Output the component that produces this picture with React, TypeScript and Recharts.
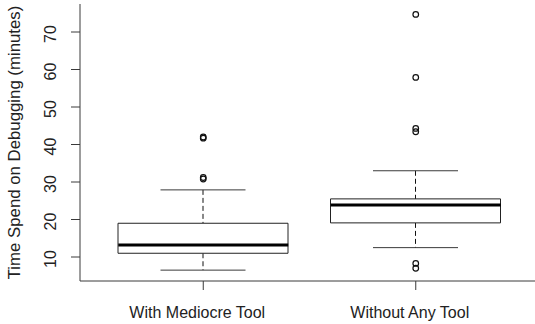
import { ComposedChart, Bar, Scatter, XAxis, YAxis, Label } from 'recharts'

// box plot summary
const categories = ['With Mediocre Tool', 'Without Any Tool']
const lowerWhisker = [6.5, 12.5]
const q1 = [11.0, 19.1]
const median = [13.2, 23.9]
const q3 = [19.0, 25.5]
const upperWhisker = [27.9, 33.0]
const outliers = [
  [30.8, 31.2, 41.7, 42.0],
  [74.7, 57.9, 44.3, 43.4, 8.3, 7.0],
]
const yTicks = [10, 20, 30, 40, 50, 60, 70]
const yDomain = [3.6, 77.47]

const boxData = categories.map((name, i) => ({
  name,
  box: [q1[i], q3[i]],
  upper: [q3[i], upperWhisker[i]],
  lower: [lowerWhisker[i], q1[i]],
  median: median[i],
}))

const outlierData = categories.flatMap((name, i) =>
  outliers[i].map((value) => ({ name, value }))
)

const FONT = '"Liberation Sans", Arial, sans-serif'
const LINE = '#3a3a3a'
const BOX_W = 170
const PAD = { left: 17, right: 17 }

const Whisker = (props: any) => {
  const { x, y, width, height, cap } = props
  const cx = x + width / 2
  const top = Math.min(y, y + height)
  const bottom = Math.max(y, y + height)
  const capY = cap === 'top' ? top : bottom
  return (
    <g>
      <line x1={cx} x2={cx} y1={top} y2={bottom} stroke="#111" strokeDasharray="5 3" />
      <line x1={cx - width / 4} x2={cx + width / 4} y1={capY} y2={capY} stroke={LINE} />
    </g>
  )
}

const MedianLine = (props: any) => {
  const { cx, cy } = props
  return <line x1={cx - BOX_W / 2} x2={cx + BOX_W / 2} y1={cy} y2={cy} stroke="#000" strokeWidth={3} />
}

const Outlier = (props: any) => {
  const { cx, cy } = props
  return <circle cx={cx} cy={cy} r={2.8} fill="none" stroke="#111" strokeWidth={1.2} />
}

const YTick = (props: any) => {
  const { x, y, payload } = props
  const tx = x - 13
  return (
    <text x={tx} y={y + 2} transform={`rotate(-90, ${tx}, ${y + 2})`} textAnchor="middle"
      fontFamily={FONT} fontSize={16} fill="#222">
      {payload.value}
    </text>
  )
}

const XTick = (props: any) => {
  const { x, y, payload } = props
  return (
    <text x={x - 6} y={y + 26} textAnchor="middle" fontFamily={FONT} fontSize={16} fill="#222">
      {payload.value}
    </text>
  )
}

const YTitle = (props: any) => {
  const { viewBox } = props
  const tx = viewBox.x + 20
  const ty = viewBox.y + viewBox.height / 2
  return (
    <text x={tx} y={ty} transform={`rotate(-90, ${tx}, ${ty})`} textAnchor="middle"
      fontFamily={FONT} fontSize={16.8} fill="#222">
      Time Spend on Debugging (minutes)
    </text>
  )
}

export default function App() {
  return (
    <div style={{ position: 'fixed', left: 0, top: 0, width: 535, height: 324, overflow: 'hidden', background: '#fff' }}>
      <ComposedChart width={545} height={324} data={boxData} margin={{ top: 4, right: 6, bottom: 0, left: 0 }}>
        <XAxis xAxisId="main" dataKey="name" type="category" allowDuplicatedCategory={false}
          padding={PAD} height={43} tickSize={9} tickMargin={2} interval={0}
          axisLine={{ stroke: LINE }} tickLine={{ stroke: LINE }} tick={XTick} />
        <XAxis xAxisId="frame" dataKey="name" type="category" orientation="top" allowDuplicatedCategory={false}
          padding={PAD} height={0} tick={false} tickLine={false} axisLine={{ stroke: LINE }} />
        <XAxis xAxisId="box" dataKey="name" type="category" orientation="top" allowDuplicatedCategory={false}
          padding={PAD} height={0} hide />
        <XAxis xAxisId="upper" dataKey="name" type="category" orientation="top" allowDuplicatedCategory={false}
          padding={PAD} height={0} hide />
        <YAxis type="number" domain={yDomain} ticks={yTicks} allowDataOverflow interval={0}
          width={80} tickSize={9} axisLine={{ stroke: LINE }} tickLine={{ stroke: LINE }} tick={YTick}>
          <Label content={YTitle} position="insideLeft" />
        </YAxis>
        <Bar xAxisId="frame" dataKey="lower" barSize={BOX_W} isAnimationActive={false}
          shape={(p: any) => <Whisker {...p} cap="bottom" />} />
        <Bar xAxisId="upper" dataKey="upper" barSize={BOX_W} isAnimationActive={false}
          shape={(p: any) => <Whisker {...p} cap="top" />} />
        <Bar xAxisId="box" dataKey="box" barSize={BOX_W} fill="#fff" stroke="#222" strokeWidth={1}
          isAnimationActive={false} />
        <Scatter xAxisId="main" dataKey="median" shape={MedianLine} isAnimationActive={false} />
        <Scatter xAxisId="main" data={outlierData} dataKey="value" shape={Outlier} isAnimationActive={false} />
      </ComposedChart>
    </div>
  )
}
